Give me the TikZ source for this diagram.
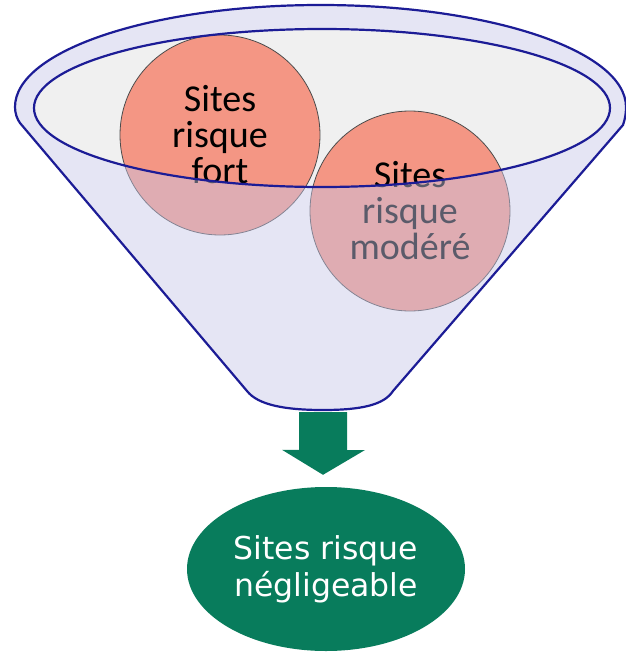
\documentclass[tikz,border=0pt]{standalone}
\usepackage{fontspec}
\setmainfont{Carlito}
\newfontfamily\roundfont{DejaVu Sans}
\usetikzlibrary{shapes.geometric}
\definecolor{rimblue}{RGB}{28,28,150}
\definecolor{salmon}{RGB}{244,150,132}
\definecolor{mouth}{RGB}{240,240,240}
\definecolor{veil}{RGB}{200,200,233}
\definecolor{leaf}{RGB}{8,124,92}
\begin{document}
\begin{tikzpicture}[x=1pt,y=-1pt,
  ball/.style={circle, draw=black!70, line width=0.8pt, fill=salmon,
    minimum size=200pt, inner sep=0pt, align=center,
    font=\fontsize{38}{36}\selectfont},
  rim/.style={draw=rimblue, line width=2.2pt},
  outcome/.style={ellipse, fill=leaf, text=white, minimum width=278pt,
    minimum height=164pt, inner sep=0pt, align=center,
    font=\roundfont\fontsize{31.5}{37}\selectfont}]
\useasboundingbox (0,0) rectangle (626,653);
\fill[white] (0,0) rectangle (626,653);

% funnel outline: top of the outer rim, the two sides and the rounded spout
\def\funnel{(15,107) arc[start angle=180, end angle=360, x radius=305.5, y radius=102]
  .. controls (626,114) and (625,119) .. (623,125) -- (393,391)
  .. controls (384,405) and (361,410) .. (323,410)
  .. controls (285,410) and (258,405) .. (247,391)
  -- (20,123) .. controls (17,119) and (15,113) .. cycle}
\def\mouthpath{(322,108) ellipse[x radius=288, y radius=79]}

% open mouth of the funnel
\fill[mouth] \mouthpath;

% the two groups of sites inside the funnel
\node[ball] (fort) at (220,135) {Sites\\risque\\fort};
\node[ball] (modere) at (410,211) {Sites\\risque\\modéré};

% translucent front wall of the funnel
\fill[veil, fill opacity=0.46, even odd rule] \funnel \mouthpath;

% funnel edges
\path[rim] \funnel;
\path[rim] \mouthpath;

% result below the funnel
\coordinate (spout) at (323,410);
\node[outcome] (negl) at (326,569) {Sites risque\\négligeable};

% downward block arrow from the spout to the result
\fill[leaf] ([xshift=-24pt, yshift=-2pt]spout) -- ++(48,0) -- ++(0,38) -- ++(18,0)
  -- ([xshift=-3pt, yshift=12pt]negl.north) -- ++(-41,-25) -- ++(17,0) -- cycle;
\end{tikzpicture}
\end{document}
